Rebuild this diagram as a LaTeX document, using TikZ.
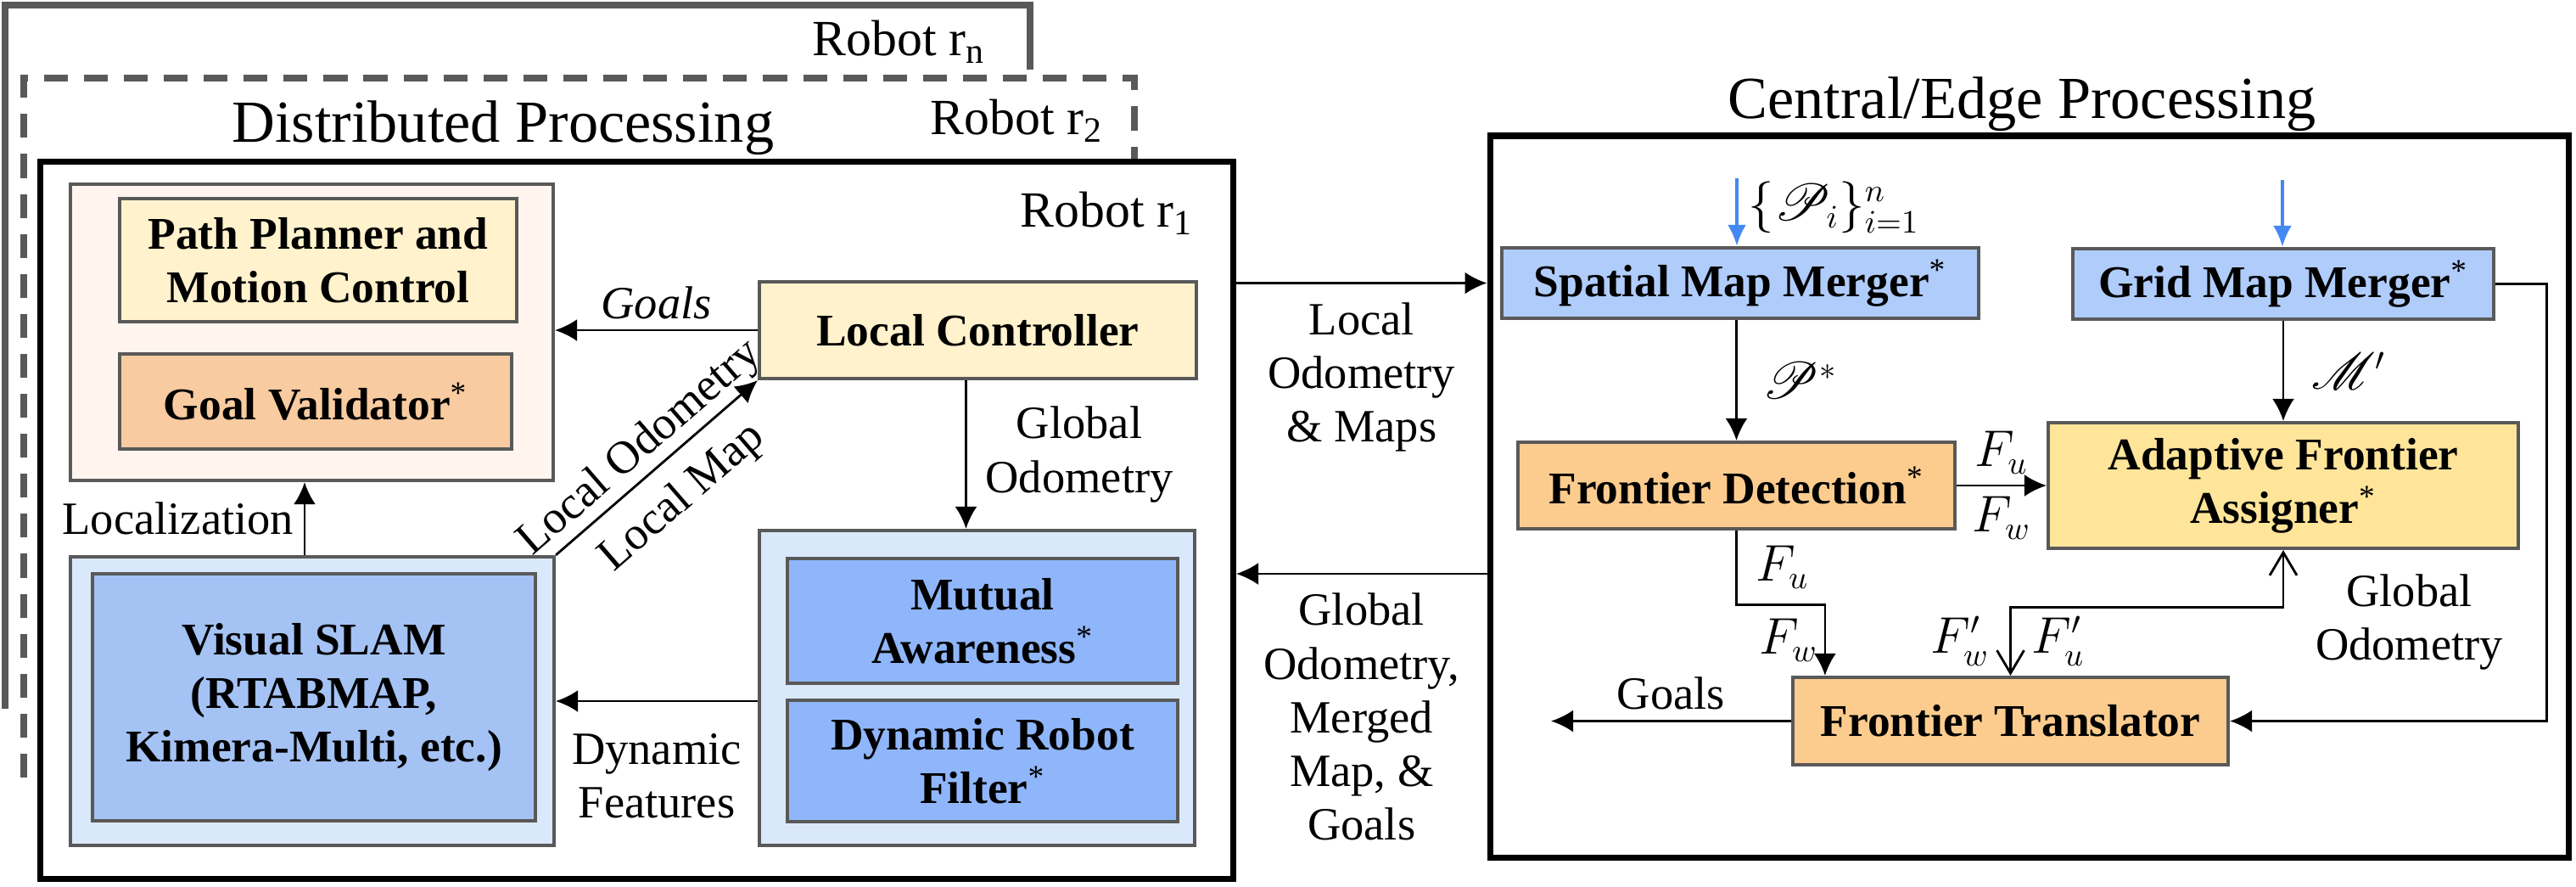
\documentclass[tikz,border=0pt]{standalone}
\usepackage{fontspec}
\setmainfont{Liberation Serif}
\usepackage{mathrsfs}
\usetikzlibrary{arrows.meta}

\definecolor{linegray}{HTML}{595959}
\definecolor{peachbg}{HTML}{FFF5EE}
\definecolor{lightyellow}{HTML}{FFF2CC}
\definecolor{lightorange}{HTML}{F8CBA0}
\definecolor{paleblue}{HTML}{DAE8FC}
\definecolor{slamblue}{HTML}{A4C2F4}
\definecolor{midblue}{HTML}{8FB6FA}
\definecolor{mergeblue}{HTML}{B0CCFA}
\definecolor{frontorange}{HTML}{FCCC8F}
\definecolor{assignyellow}{HTML}{FFE599}
\definecolor{inblue}{HTML}{4488F4}

\newcommand{\contrib}{\textsuperscript{\mdseries *}}

\begin{document}
\begin{tikzpicture}[
    box/.style={rectangle, draw=linegray, line width=1.2pt, align=center, inner sep=0pt, font=\fontsize{15.2}{17.9}\selectfont\bfseries},
    group/.style={rectangle, draw=linegray, line width=1.2pt, inner sep=0pt},
    robotframe/.style={rectangle, draw=black, line width=2pt, inner sep=0pt},
    others/.style={draw=linegray, line width=2pt},
    arrow/.style={-{Latex[length=2.6mm, width=2.6mm]}, line width=0.8pt},
    barb/.style={{Straight Barb[length=2.7mm, width=3.2mm]}-{Straight Barb[length=2.7mm, width=3.2mm]}, line width=0.8pt},
    inarrow/.style={-{Latex[length=2.5mm, width=2.2mm]}, line width=1.1pt, draw=inblue, fill=inblue},
    txt/.style={font=\fontsize{15.5}{18}\selectfont, align=center},
    mathtxt/.style={font=\fontsize{16}{19}\selectfont},
    title/.style={font=\fontsize{20}{24}\selectfont, anchor=base west, inner sep=0pt},
    robot/.style={font=\fontsize{17}{20}\selectfont, anchor=base west, inner sep=0pt}
]
\useasboundingbox (0,0) rectangle (30.36,-10.44);

% Robot frames
\draw[others] (0.06,-8.35) -- (0.06,-0.06) -- (12.14,-0.06) -- (12.14,-0.82);
\draw[others, dash pattern=on 8pt off 5.4pt] (0.28,-9.16) -- (0.28,-0.92) -- (13.37,-0.92) -- (13.37,-1.92);
\node[robotframe, minimum width=14.06cm, minimum height=8.45cm] (r1frame) at (7.505,-6.13) {};
\node[robotframe, minimum width=12.71cm, minimum height=8.50cm] (cframe) at (23.915,-5.85) {};

\node[robot] (rn) at (9.57,-0.65) {Robot r\textsubscript{n}};
\node[robot] (r2) at (10.96,-1.58) {Robot r\textsubscript{2}};
\node[robot] (r1) at (12.02,-2.67) {Robot r\textsubscript{1}};
\node[title] (dist) at (2.73,-1.67) {Distributed Processing};
\node[title] (central) at (20.36,-1.39) {Central/Edge Processing};

% Robot side
\node[group, fill=peachbg, minimum width=5.69cm, minimum height=3.49cm] (plancont) at (3.675,-3.915) {};
\node[box, fill=lightyellow, minimum width=4.68cm, minimum height=1.45cm] (ppmc) at (3.75,-3.065) {Path Planner and\\Motion Control};
\node[box, fill=lightorange, minimum width=4.62cm, minimum height=1.12cm] (gval) at (3.72,-4.73) {Goal Validator\contrib};
\node[box, fill=lightyellow, minimum width=5.15cm, minimum height=1.14cm] (lc) at (11.525,-3.89) {Local Controller};

\node[group, fill=paleblue, minimum width=5.70cm, minimum height=3.40cm] (slamcont) at (3.68,-8.26) {};
\node[box, fill=slamblue, minimum width=5.22cm, minimum height=2.91cm] (slam) at (3.70,-8.215) {Visual SLAM\\(RTABMAP,\\Kimera-Multi, etc.)};

\node[group, fill=paleblue, minimum width=5.13cm, minimum height=3.71cm] (awcont) at (11.515,-8.105) {};
\node[box, fill=midblue, minimum width=4.60cm, minimum height=1.47cm] (mutual) at (11.58,-7.315) {Mutual\\Awareness\contrib};
\node[box, fill=midblue, minimum width=4.60cm, minimum height=1.43cm] (drf) at (11.58,-8.965) {Dynamic Robot\\Filter\contrib};

\draw[arrow] (lc.west) -- (lc.west -| plancont.east) node[midway, above, txt] {\textit{Goals}};
\draw[arrow] ([xshift=-0.09cm]slamcont.north) -- ([xshift=-0.09cm]slamcont.north |- plancont.south) node[midway, left, txt] {Localization};
\draw[arrow] (slamcont.north east) -- (lc.south west)
    node[midway, sloped, above, inner sep=1pt, txt] {Local Odometry}
    node[midway, sloped, below, inner sep=6pt, txt] {Local Map};
\draw[arrow] ([xshift=-0.14cm]lc.south) -- ([xshift=-0.14cm]lc.south |- awcont.north) node[midway, right=0.1cm, txt] {Global\\Odometry};
\draw[arrow] (awcont.west |- slamcont.east) -- (slamcont.east) node[midway, below=0.25cm, txt] {Dynamic\\Features};

% Central side
\node[box, fill=mergeblue, minimum width=5.62cm, minimum height=0.83cm] (smm) at (20.51,-3.335) {Spatial Map Merger\contrib};
\node[box, fill=mergeblue, minimum width=4.96cm, minimum height=0.83cm] (gmm) at (26.91,-3.345) {Grid Map Merger\contrib};
\node[box, fill=frontorange, minimum width=5.15cm, minimum height=1.02cm] (fd) at (20.465,-5.72) {Frontier Detection\contrib};
\node[box, fill=assignyellow, minimum width=5.54cm, minimum height=1.48cm] (afa) at (26.91,-5.72) {Adaptive Frontier\\Assigner\contrib};
\node[box, fill=frontorange, minimum width=5.13cm, minimum height=1.03cm] (ft) at (23.695,-8.495) {Frontier Translator};

\coordinate (pin1) at (20.47,-2.10);
\coordinate (pin2) at (26.90,-2.12);
\coordinate (goalsend) at (18.28,-8.495);

\draw[inarrow] (pin1) -- (pin1 |- smm.north) node[pos=0.43, right, mathtxt, text=black] {$\{\mathscr{P}_i\}_{i=1}^{n}$};
\draw[inarrow] (pin2) -- (pin2 |- gmm.north);
\draw[arrow] (fd.north |- smm.south) -- (fd.north) node[midway, right=0.18cm, mathtxt] {$\mathscr{P}^{*}$};
\draw[arrow] (gmm) -- (afa) node[midway, right=0.2cm, mathtxt] {$\mathscr{M}'$};
\draw[arrow] (fd) -- (afa) node[midway, above, inner sep=3.5pt, mathtxt] {$F_u$} node[midway, below, mathtxt] {$F_w$};
\draw[arrow] (fd.south) -- ++(0,-0.87) node[midway, right=0.1cm, mathtxt] {$F_u$}
    -| node[pos=0.75, left, inner sep=2pt, mathtxt] {$F_w$} ([xshift=0.4cm]ft.north west);
\draw[barb] (afa.south) -- ++(0,-0.67) -| node[pos=0.75, left=0.12cm, mathtxt] {$F'_w$} node[pos=0.75, right=0.12cm, mathtxt] {$F'_u$} (ft.north);
\draw[arrow] (gmm.east) -- ++(0.6,0) |- node[pos=0.387, left=0.38cm, txt] {Global\\Odometry} (ft.east);
\draw[arrow] (ft.west) -- (goalsend) node[midway, above, txt] {Goals};

% Between both sides
\draw[arrow] (r1frame.east |- smm) -- (cframe.west |- smm) node[midway, below=0.1cm, txt] {Local\\Odometry\\\& Maps};
\draw[arrow] ([yshift=-0.91cm]cframe.west) -- ([yshift=-0.91cm]cframe.west -| r1frame.east) node[midway, below=0.1cm, txt] {Global\\Odometry,\\Merged\\Map, \&\\Goals};

\end{tikzpicture}
\end{document}
